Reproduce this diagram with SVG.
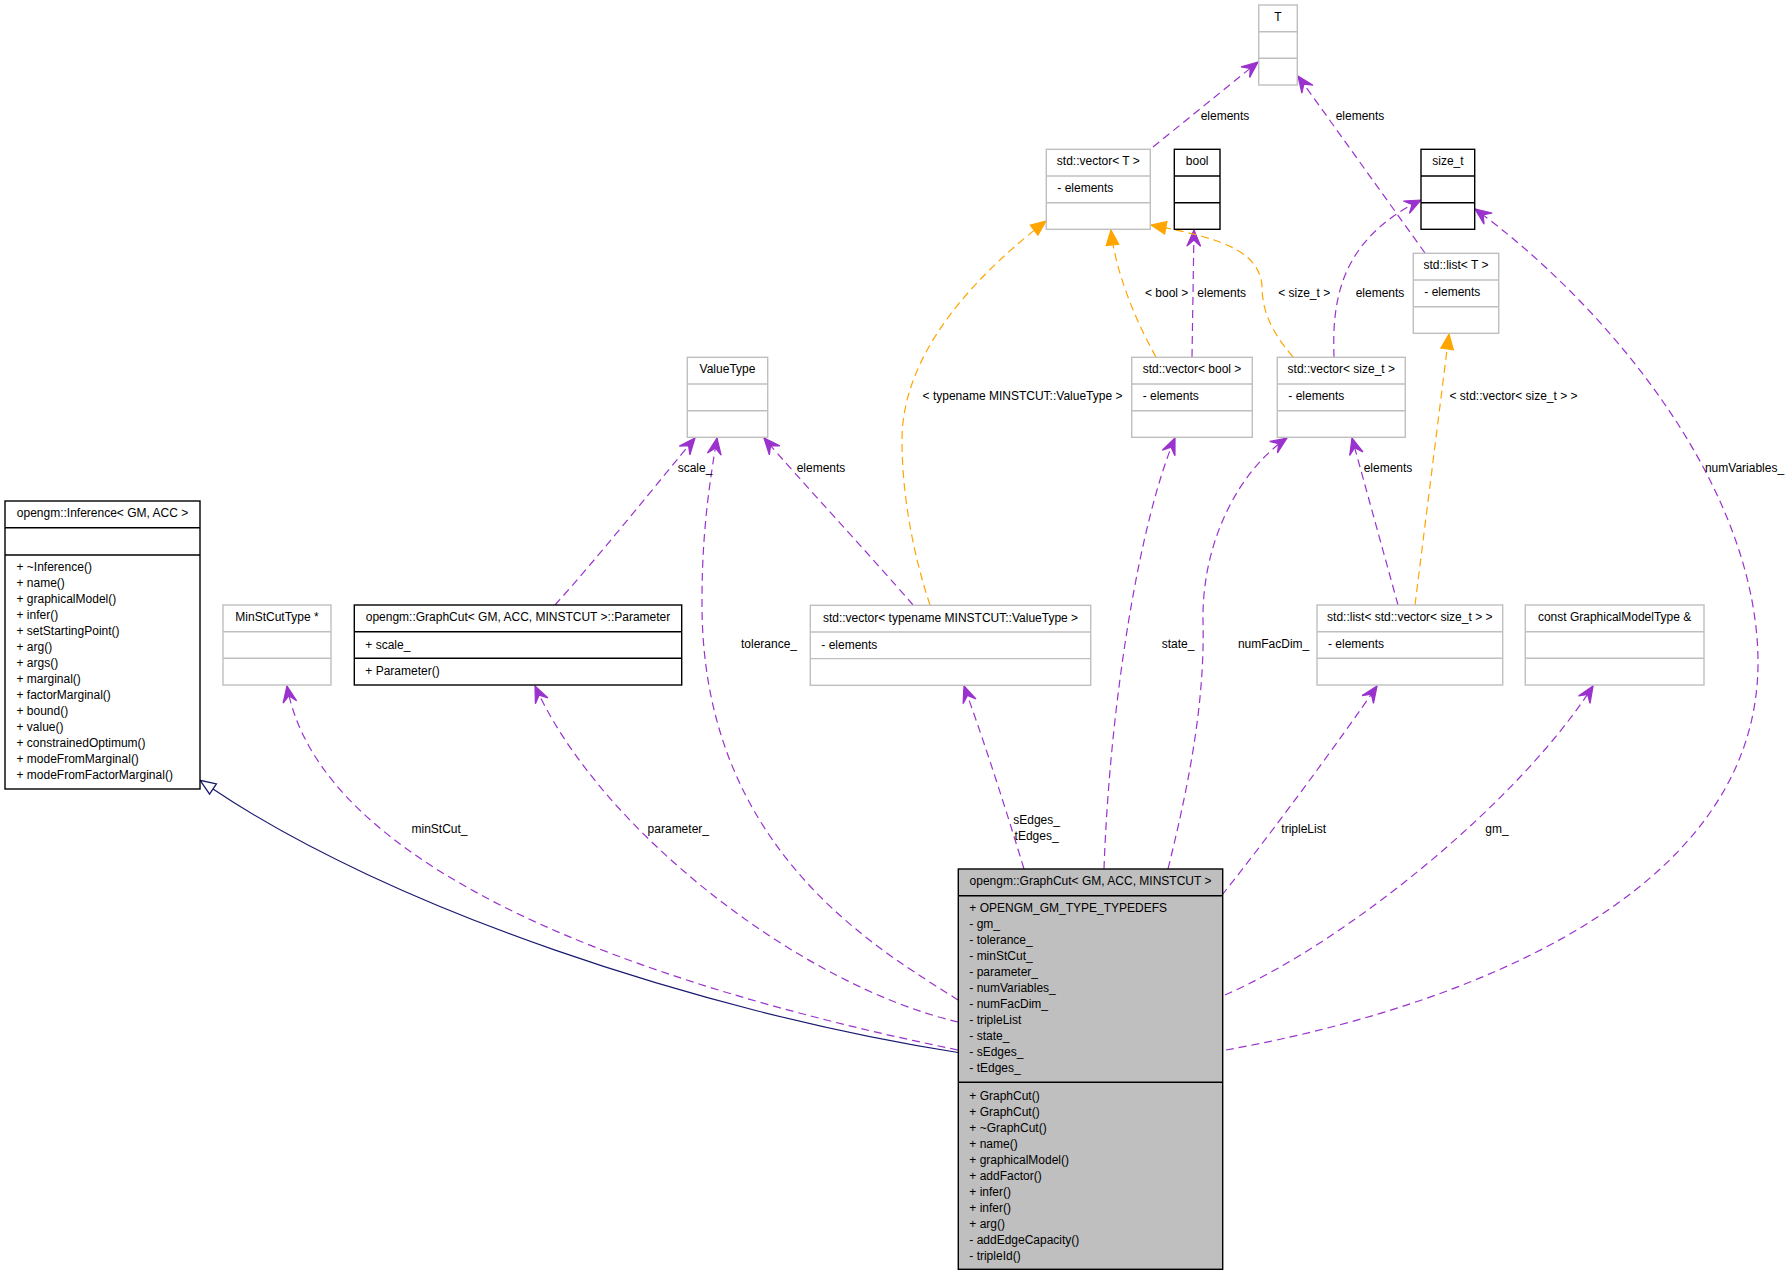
<svg xmlns="http://www.w3.org/2000/svg" width="1791" height="1275" viewBox="0 0 1791 1275">
<style>
text{font-family:"Liberation Sans",Arial,Helvetica,sans-serif;font-size:12px;fill:#000}
.c{text-anchor:middle}
.g{fill:#fff;stroke:#bfbfbf;stroke-width:1.4}
.gl{stroke:#bfbfbf;stroke-width:1.4}
.k{fill:#fff;stroke:#000;stroke-width:1.4}
.kl{stroke:#000;stroke-width:1.6}
.main{fill:#bfbfbf;stroke:#000;stroke-width:1.4}
.e{fill:none;stroke:#9a32cd;stroke-width:1.2;stroke-dasharray:8,5}
.o{fill:none;stroke:#ffa500;stroke-width:1.2;stroke-dasharray:8,5}
.inh{fill:none;stroke:#191970;stroke-width:1.2}
</style>
<defs>
<marker id="vee" markerUnits="userSpaceOnUse" markerWidth="20" markerHeight="20" viewBox="-14 -7 16 14" refX="0" refY="0" orient="auto">
<path d="M0,0 L-13,-5.5 L-8,0 L-13,5.5 Z" fill="#9a32cd" stroke="#9a32cd" stroke-width="1"/>
</marker>
<marker id="tri" markerUnits="userSpaceOnUse" markerWidth="20" markerHeight="20" viewBox="-14 -7 16 14" refX="0" refY="0" orient="auto">
<path d="M0,0 L-12,-5 L-12,5 Z" fill="#ffa500" stroke="#ffa500" stroke-width="1"/>
</marker>
<marker id="emp" markerUnits="userSpaceOnUse" markerWidth="20" markerHeight="20" viewBox="-2 -8 18 16" refX="0" refY="0" orient="auto">
<path d="M0,-5.5 L14,0 L0,5.5 Z" fill="#fff" stroke="#191970" stroke-width="1.2"/>
</marker>
</defs>
<rect width="1791" height="1275" fill="#fff"/>

<g id="edges">
<path class="inh" d="M958,1052.5 C700,1012 390,908 213,789" marker-end="url(#emp)"/>
<path class="e" d="M958,1050 C640,985 320,870 287,686" marker-end="url(#vee)"/>
<path class="e" d="M958,1022 C800,985 600,830 535,686" marker-end="url(#vee)"/>
<path class="e" d="M958,1000 C880,950 700,850 702,600 C702,530 710,480 717,438" marker-end="url(#vee)"/>
<path class="e" d="M555,605 C600,555 660,480 695,438" marker-end="url(#vee)"/>
<path class="e" d="M913,605 C870,555 800,480 764,438" marker-end="url(#vee)"/>
<path class="o" d="M930,605 C915,560 902,500 902,440 C902,370 950,295 1046,221" marker-end="url(#tri)"/>
<path class="o" d="M1156,357 C1135,320 1115,270 1111,230" marker-end="url(#tri)"/>
<path class="e" d="M1192,357 L1194,230" marker-end="url(#vee)"/>
<path class="o" d="M1293,357 C1270,330 1262,310 1262,285 C1258,250 1220,238 1151,225" marker-end="url(#tri)"/>
<path class="e" d="M1334,357 C1332,300 1340,240 1421,200" marker-end="url(#vee)"/>
<path class="e" d="M1425,253 L1298,76" marker-end="url(#vee)"/>
<path class="e" d="M1153,147 L1258,62" marker-end="url(#vee)"/>
<path class="e" d="M1398,605 L1352,438" marker-end="url(#vee)"/>
<path class="o" d="M1415,605 L1449,334" marker-end="url(#tri)"/>
<path class="e" d="M1104,869 C1110,700 1140,520 1175,438" marker-end="url(#vee)"/>
<path class="e" d="M1168,869 C1190,780 1205,700 1203,620 C1202,540 1240,470 1287,438" marker-end="url(#vee)"/>
<path class="e" d="M1024,869 C1000,790 980,730 964,686" marker-end="url(#vee)"/>
<path class="e" d="M1222,895 C1270,835 1340,740 1377,686" marker-end="url(#vee)"/>
<path class="e" d="M1225,995 C1350,940 1520,800 1593,686" marker-end="url(#vee)"/>
<path class="e" d="M1226,1050 C1450,1010 1760,900 1758,660 C1756,480 1600,300 1475,209" marker-end="url(#vee)"/>
<text x="1225" y="120.3" class="c">elements</text>
<text x="1360" y="120.3" class="c">elements</text>
<text x="1166.7" y="296.6" class="c">&lt; bool &gt;</text>
<text x="1221.7" y="296.6" class="c">elements</text>
<text x="1304.2" y="296.6" class="c">&lt; size_t &gt;</text>
<text x="1380" y="296.6" class="c">elements</text>
<text x="1022.5" y="400" class="c">&lt; typename MINSTCUT::ValueType &gt;</text>
<text x="1513.5" y="400.3" class="c">&lt; std::vector&lt; size_t &gt; &gt;</text>
<text x="695" y="472.3" class="c">scale_</text>
<text x="821" y="472.3" class="c">elements</text>
<text x="1388" y="472.3" class="c">elements</text>
<text x="1744.5" y="472.3" class="c">numVariables_</text>
<text x="769" y="648.3" class="c">tolerance_</text>
<text x="1178" y="648.3" class="c">state_</text>
<text x="1273.6" y="648.3" class="c">numFacDim_</text>
<text x="439.5" y="832.6" class="c">minStCut_</text>
<text x="678.3" y="832.6" class="c">parameter_</text>
<text x="1036.6" y="824.3" class="c">sEdges_</text>
<text x="1036.6" y="840.3" class="c">tEdges_</text>
<text x="1303.7" y="832.6" class="c">tripleList</text>
<text x="1497" y="832.6" class="c">gm_</text>
</g>

<g id="node_T">
<rect class="g" x="1258.7" y="5" width="38.6" height="80"/>
<line class="gl" x1="1258.7" y1="31.7" x2="1297.3" y2="31.7"/>
<line class="gl" x1="1258.7" y1="58.3" x2="1297.3" y2="58.3"/>
<text x="1278" y="21.3" class="c">T</text>
</g>
<g id="node_vector_T">
<rect class="g" x="1046.3" y="149.3" width="104" height="80"/>
<line class="gl" x1="1046.3" y1="176" x2="1150.3" y2="176"/>
<line class="gl" x1="1046.3" y1="202.7" x2="1150.3" y2="202.7"/>
<text x="1098.3" y="165.3" class="c">std::vector&lt; T &gt;</text>
<text x="1057.3" y="192.3">- elements</text>
</g>
<g id="node_bool">
<rect class="k" x="1174.3" y="149.3" width="45.7" height="80"/>
<line class="kl" x1="1174.3" y1="176" x2="1220" y2="176"/>
<line class="kl" x1="1174.3" y1="202.7" x2="1220" y2="202.7"/>
<text x="1197.2" y="165.3" class="c">bool</text>
</g>
<g id="node_size_t">
<rect class="k" x="1421" y="149.3" width="53.7" height="80"/>
<line class="kl" x1="1421" y1="176" x2="1474.7" y2="176"/>
<line class="kl" x1="1421" y1="202.7" x2="1474.7" y2="202.7"/>
<text x="1447.9" y="165.3" class="c">size_t</text>
</g>
<g id="node_list_T">
<rect class="g" x="1413.3" y="253.3" width="85.4" height="80"/>
<line class="gl" x1="1413.3" y1="280" x2="1498.7" y2="280"/>
<line class="gl" x1="1413.3" y1="306.7" x2="1498.7" y2="306.7"/>
<text x="1456" y="269.3" class="c">std::list&lt; T &gt;</text>
<text x="1424.3" y="296.3">- elements</text>
</g>
<g id="node_ValueType">
<rect class="g" x="687.3" y="357.3" width="80.4" height="80"/>
<line class="gl" x1="687.3" y1="384" x2="767.7" y2="384"/>
<line class="gl" x1="687.3" y1="410.7" x2="767.7" y2="410.7"/>
<text x="727.5" y="373.3" class="c">ValueType</text>
</g>
<g id="node_vector_bool">
<rect class="g" x="1131.7" y="357.3" width="120.6" height="80"/>
<line class="gl" x1="1131.7" y1="384" x2="1252.3" y2="384"/>
<line class="gl" x1="1131.7" y1="410.7" x2="1252.3" y2="410.7"/>
<text x="1192" y="373.3" class="c">std::vector&lt; bool &gt;</text>
<text x="1142.7" y="400.3">- elements</text>
</g>
<g id="node_vector_size_t">
<rect class="g" x="1277.3" y="357.3" width="128" height="80"/>
<line class="gl" x1="1277.3" y1="384" x2="1405.3" y2="384"/>
<line class="gl" x1="1277.3" y1="410.7" x2="1405.3" y2="410.7"/>
<text x="1341.3" y="373.3" class="c">std::vector&lt; size_t &gt;</text>
<text x="1288.3" y="400.3">- elements</text>
</g>
<g id="node_Inference">
<rect class="k" x="5" y="501" width="195" height="288"/>
<line class="kl" x1="5" y1="527.7" x2="200" y2="527.7"/>
<line class="kl" x1="5" y1="555" x2="200" y2="555"/>
<text x="102.5" y="517.3" class="c">opengm::Inference&lt; GM, ACC &gt;</text>
<text x="16.5" y="571.3">+ ~Inference()</text>
<text x="16.5" y="587.3">+ name()</text>
<text x="16.5" y="603.3">+ graphicalModel()</text>
<text x="16.5" y="619.3">+ infer()</text>
<text x="16.5" y="635.3">+ setStartingPoint()</text>
<text x="16.5" y="651.3">+ arg()</text>
<text x="16.5" y="667.3">+ args()</text>
<text x="16.5" y="683.3">+ marginal()</text>
<text x="16.5" y="699.3">+ factorMarginal()</text>
<text x="16.5" y="715.3">+ bound()</text>
<text x="16.5" y="731.3">+ value()</text>
<text x="16.5" y="747.3">+ constrainedOptimum()</text>
<text x="16.5" y="763.3">+ modeFromMarginal()</text>
<text x="16.5" y="779.3">+ modeFromFactorMarginal()</text>
</g>
<g id="node_MinStCutType">
<rect class="g" x="223" y="605" width="108" height="80"/>
<line class="gl" x1="223" y1="631.7" x2="331" y2="631.7"/>
<line class="gl" x1="223" y1="658.3" x2="331" y2="658.3"/>
<text x="277" y="621.3" class="c">MinStCutType *</text>
</g>
<g id="node_Parameter">
<rect class="k" x="354.3" y="605" width="327.4" height="80"/>
<line class="kl" x1="354.3" y1="631.7" x2="681.7" y2="631.7"/>
<line class="kl" x1="354.3" y1="658.3" x2="681.7" y2="658.3"/>
<text x="518" y="621.3" class="c">opengm::GraphCut&lt; GM, ACC, MINSTCUT &gt;::Parameter</text>
<text x="365.3" y="648.6">+ scale_</text>
<text x="365.3" y="675.3">+ Parameter()</text>
</g>
<g id="node_vector_ValueType">
<rect class="g" x="810.3" y="605.3" width="280.4" height="80"/>
<line class="gl" x1="810.3" y1="632" x2="1090.7" y2="632"/>
<line class="gl" x1="810.3" y1="658.6" x2="1090.7" y2="658.6"/>
<text x="950.5" y="621.6" class="c">std::vector&lt; typename MINSTCUT::ValueType &gt;</text>
<text x="821.3" y="648.6">- elements</text>
</g>
<g id="node_list_vector_size_t">
<rect class="g" x="1317" y="605" width="185.7" height="80"/>
<line class="gl" x1="1317" y1="631.7" x2="1502.7" y2="631.7"/>
<line class="gl" x1="1317" y1="658.3" x2="1502.7" y2="658.3"/>
<text x="1409.8" y="621.3" class="c">std::list&lt; std::vector&lt; size_t &gt; &gt;</text>
<text x="1328" y="648.3">- elements</text>
</g>
<g id="node_GraphicalModelType">
<rect class="g" x="1525.3" y="605" width="178.7" height="80"/>
<line class="gl" x1="1525.3" y1="631.7" x2="1704" y2="631.7"/>
<line class="gl" x1="1525.3" y1="658.3" x2="1704" y2="658.3"/>
<text x="1614.6" y="621.3" class="c">const GraphicalModelType &amp;</text>
</g>
<g id="node_GraphCut">
<rect class="main" x="958.3" y="869" width="264.4" height="400.3"/>
<line class="kl" x1="958.3" y1="895.7" x2="1222.7" y2="895.7"/>
<line class="kl" x1="958.3" y1="1082.3" x2="1222.7" y2="1082.3"/>
<text x="1090.5" y="885.3" class="c">opengm::GraphCut&lt; GM, ACC, MINSTCUT &gt;</text>
<text x="969.3" y="912">+ OPENGM_GM_TYPE_TYPEDEFS</text>
<text x="969.3" y="928">- gm_</text>
<text x="969.3" y="944">- tolerance_</text>
<text x="969.3" y="960">- minStCut_</text>
<text x="969.3" y="976">- parameter_</text>
<text x="969.3" y="992">- numVariables_</text>
<text x="969.3" y="1008">- numFacDim_</text>
<text x="969.3" y="1024">- tripleList</text>
<text x="969.3" y="1040">- state_</text>
<text x="969.3" y="1056">- sEdges_</text>
<text x="969.3" y="1072">- tEdges_</text>
<text x="969.3" y="1099.6">+ GraphCut()</text>
<text x="969.3" y="1115.6">+ GraphCut()</text>
<text x="969.3" y="1131.6">+ ~GraphCut()</text>
<text x="969.3" y="1147.6">+ name()</text>
<text x="969.3" y="1163.6">+ graphicalModel()</text>
<text x="969.3" y="1179.6">+ addFactor()</text>
<text x="969.3" y="1195.6">+ infer()</text>
<text x="969.3" y="1211.6">+ infer()</text>
<text x="969.3" y="1227.6">+ arg()</text>
<text x="969.3" y="1243.6">- addEdgeCapacity()</text>
<text x="969.3" y="1259.6">- tripleId()</text>
</g>
</svg>
